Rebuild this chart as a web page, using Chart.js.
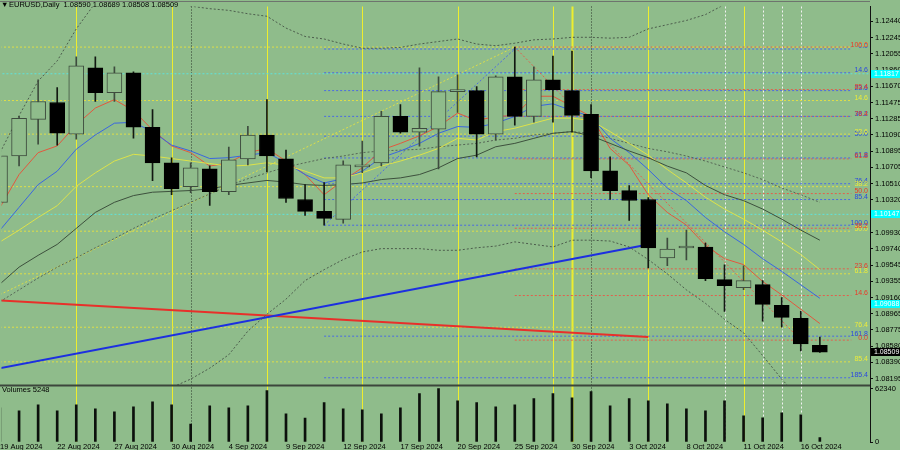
<!DOCTYPE html>
<html>
<head>
<meta charset="utf-8">
<script src="https://cdn.jsdelivr.net/npm/chart.js@4.4.1/dist/chart.umd.min.js"></script>
<style>
  html, body { margin: 0; padding: 0; background: #8fbc8b; }
  #wrap { width: 900px; height: 450px; }
</style>
</head>
<body>
<div id="wrap"><canvas id="chart" width="900" height="450"></canvas></div>
<script>
// ===================== DATA =====================
const dates = [
  "19 Aug 2024", "20 Aug 2024", "21 Aug 2024", "22 Aug 2024", "23 Aug 2024",
  "26 Aug 2024", "27 Aug 2024", "28 Aug 2024", "29 Aug 2024", "30 Aug 2024",
  "2 Sep 2024", "3 Sep 2024", "4 Sep 2024", "5 Sep 2024", "6 Sep 2024",
  "9 Sep 2024", "10 Sep 2024", "11 Sep 2024", "12 Sep 2024", "13 Sep 2024",
  "16 Sep 2024", "17 Sep 2024", "18 Sep 2024", "19 Sep 2024", "20 Sep 2024",
  "23 Sep 2024", "24 Sep 2024", "25 Sep 2024", "26 Sep 2024", "27 Sep 2024",
  "30 Sep 2024", "1 Oct 2024", "2 Oct 2024", "3 Oct 2024", "4 Oct 2024",
  "7 Oct 2024", "8 Oct 2024", "9 Oct 2024", "10 Oct 2024", "11 Oct 2024",
  "14 Oct 2024", "15 Oct 2024", "16 Oct 2024", "17 Oct 2024"
];

const opens = [1.10288, 1.10841, 1.11276, 1.11476, 1.11100, 1.11887, 1.11593, 1.11829, 1.11182, 1.10759,
  1.10476, 1.10688, 1.10417, 1.10806, 1.11088, 1.10806, 1.10323, 1.10182, 1.10088, 1.10711,
  1.10759, 1.11311, 1.11123, 1.11158, 1.11605, 1.11617, 1.11100, 1.11782, 1.11311, 1.11746,
  1.11617, 1.11335, 1.10664, 1.10429, 1.10323, 1.09630, 1.09747, 1.09759, 1.09371, 1.09277,
  1.09312, 1.09065, 1.08912, 1.08590];
const highs = [1.10900, 1.11311, 1.11746, 1.11652, 1.12017, 1.12017, 1.11899, 1.11840, 1.11393, 1.10817,
  1.10759, 1.10723, 1.10947, 1.11194, 1.11511, 1.10911, 1.10500, 1.10523, 1.10782, 1.11017,
  1.11370, 1.11452, 1.11887, 1.11782, 1.11805, 1.11664, 1.11793, 1.12134, 1.11899, 1.12028,
  1.12087, 1.11452, 1.10829, 1.10488, 1.10347, 1.09865, 1.09959, 1.09806, 1.09547, 1.09536,
  1.09359, 1.09159, 1.08995, 1.08689];
const lows = [1.10229, 1.10723, 1.10982, 1.10970, 1.11041, 1.11488, 1.11488, 1.11052, 1.10547, 1.10382,
  1.10406, 1.10253, 1.10382, 1.10735, 1.10653, 1.10288, 1.10135, 1.10018, 1.10041, 1.10641,
  1.10723, 1.11111, 1.10958, 1.10688, 1.11358, 1.10829, 1.11029, 1.11205, 1.11241, 1.11241,
  1.11123, 1.10582, 1.10323, 1.10076, 1.09512, 1.09536, 1.09606, 1.09359, 1.08995, 1.09253,
  1.08877, 1.08806, 1.08524, 1.08508];
const closes = [1.10841, 1.11288, 1.11488, 1.11111, 1.11911, 1.11593, 1.11829, 1.11182, 1.10759, 1.10453,
  1.10700, 1.10417, 1.10794, 1.11088, 1.10841, 1.10335, 1.10182, 1.10100, 1.10735, 1.10735,
  1.11311, 1.11123, 1.11170, 1.11605, 1.11629, 1.11100, 1.11782, 1.11311, 1.11746, 1.11629,
  1.11323, 1.10664, 1.10429, 1.10312, 1.09747, 1.09735, 1.09771, 1.09383, 1.09300, 1.09359,
  1.09077, 1.08924, 1.08607, 1.08509];

const volumes = [40000, 36500, 43500, 36500, 43500, 38800, 35300, 41200, 47000, 43500,
  21000, 42300, 40000, 42300, 60000, 33000, 28000, 46000, 38800, 37600,
  33000, 40000, 56400, 62340, 48200, 46000, 41200, 43500, 50600, 56400,
  51700, 58800, 42300, 50600, 48200, 44700, 38800, 36500, 48200, 30600,
  28200, 34000, 31700, 5248];

// moving averages / bands
const maRed = [1.1023, 1.1062, 1.1088, 1.1096, 1.1121, 1.1141, 1.1151, 1.1138, 1.1115, 1.1096,
  1.1088, 1.1072, 1.1076, 1.1088, 1.1093, 1.1078, 1.1062, 1.1038, 1.1055, 1.1070,
  1.1091, 1.1099, 1.1108, 1.1119, 1.1135, 1.1126, 1.1131, 1.1132, 1.1155, 1.1155,
  1.1143, 1.1131, 1.1093, 1.1073, 1.1038, 1.1017, 1.1002, 1.0978, 1.0962, 1.0955,
  1.0935, 1.0919, 1.0902, 1.0885];
const maBlue = [1.0996, 1.1023, 1.1050, 1.1066, 1.1092, 1.1109, 1.1123, 1.1124, 1.1113, 1.1097,
  1.1090, 1.1081, 1.1082, 1.1085, 1.1088, 1.1076, 1.1062, 1.1052, 1.1057, 1.1066,
  1.1082, 1.1090, 1.1099, 1.1111, 1.1119, 1.1118, 1.1123, 1.1131, 1.1143, 1.1146,
  1.1138, 1.1131, 1.1105, 1.1088, 1.1068, 1.1046, 1.1031, 1.1011, 1.0994, 1.0979,
  1.0962, 1.0947, 1.0931, 1.0915];
const maYellow = [1.0982, 1.0996, 1.1011, 1.1025, 1.1048, 1.1064, 1.1078, 1.1086, 1.1084, 1.1081,
  1.1078, 1.1075, 1.1072, 1.1073, 1.1076, 1.1073, 1.1066, 1.1058, 1.1058, 1.1064,
  1.1072, 1.1078, 1.1085, 1.1093, 1.1105, 1.1103, 1.1113, 1.1117, 1.1123, 1.1129,
  1.1129, 1.1126, 1.1113, 1.1099, 1.1085, 1.1068, 1.1052, 1.1035, 1.1021, 1.1009,
  1.0996, 1.0982, 1.0967, 1.0949];
const maDark = [1.0932, 1.0952, 1.0966, 1.0979, 1.0998, 1.1017, 1.1029, 1.1037, 1.1041, 1.1042,
  1.1043, 1.1045, 1.1049, 1.1052, 1.1055, 1.1053, 1.1050, 1.1049, 1.1050, 1.1052,
  1.1056, 1.1058, 1.1062, 1.1070, 1.1081, 1.1085, 1.1095, 1.1099, 1.1105, 1.1111,
  1.1113, 1.1108, 1.1099, 1.1090, 1.1082, 1.1072, 1.1064, 1.1049, 1.1038, 1.1031,
  1.1021, 1.1009, 1.0996, 1.0984];
const maSlow = [1.0911, 1.0925, 1.0939, 1.0952, 1.0963, 1.0975, 1.0986, 1.0998, 1.1009, 1.1019,
  1.1029, 1.1039, 1.1049, 1.1057, 1.1064, 1.1071, 1.1076, 1.1081, 1.1084, 1.1088,
  1.1090, 1.1091, 1.1092, 1.1095, 1.1097, 1.1099, 1.1103, 1.1105, 1.1109, 1.1111,
  1.1113, 1.1111, 1.1105, 1.1099, 1.1093, 1.1089, 1.1084, 1.1078, 1.1071, 1.1064,
  1.1056, 1.1046, 1.1038, 1.1029];
const bandUpper = [1.1088, 1.1132, 1.1173, 1.1197, 1.1235, 1.1266, 1.1282, 1.1288, 1.1288, 1.1278,
  1.1262, 1.1259, 1.1257, 1.1253, 1.1250, 1.1236, 1.1226, 1.1223, 1.1217, 1.1212,
  1.1212, 1.1213, 1.1217, 1.1220, 1.1223, 1.1217, 1.1215, 1.1218, 1.1222, 1.1223,
  1.1225, 1.1225, 1.1224, 1.1225, 1.1235, 1.1240, 1.1245, 1.1252, 1.1264, 1.1276,
  1.1288, 1.1299, 1.1311, 1.1323];
const bandLower = [1.0700, 1.0723, 1.0741, 1.0756, 1.0770, 1.0782, 1.0790, 1.0796, 1.0801, 1.0809,
  1.0819, 1.0832, 1.0848, 1.0876, 1.0896, 1.0914, 1.0936, 1.0949, 1.0961, 1.0970,
  1.0974, 1.0974, 1.0974, 1.0972, 1.0972, 1.0975, 1.0977, 1.0982, 1.0979, 1.0976,
  1.0984, 1.0984, 1.0983, 1.0976, 1.0961, 1.0944, 1.0925, 1.0909, 1.0890, 1.0874,
  1.0847, 1.0819, 1.0794, 1.0770];

// fibonacci levels (label, price) and the bar they start from
const redFibLevels = ["100.0", "85.4", "76.4", "61.8", "50.0", "38.2", "23.6", "14.6", "0.0"];
const redFibPrices = [1.12134, 1.11629, 1.11311, 1.10806, 1.10394, 1.09982, 1.09500, 1.09183, 1.08653];
const blueFibLevels = ["0.0", "14.6", "23.6", "38.2", "50.0", "61.8", "76.4", "85.4", "100.0", "161.8", "185.4"];
const blueFibPrices = [1.12111, 1.11829, 1.11617, 1.11311, 1.11076, 1.10817, 1.10511, 1.10323, 1.10018, 1.08700, 1.08206];
const yellowFibLevels = ["0.0", "14.6", "23.6", "38.2", "50.0", "61.8", "76.4", "85.4"];
const yellowFibPrices = [1.12134, 1.11499, 1.11100, 1.10476, 1.09947, 1.09441, 1.08806, 1.08395];
const redFibStart = "25 Sep 2024";
const blueFibStart = "11 Sep 2024";
const yellowFibStart = "19 Aug 2024";

// trend lines: [start date, start price, end date, end price]
const trendBlue = ["19 Aug 2024", 1.08320, "4 Oct 2024", 1.09790];
const trendRed = ["19 Aug 2024", 1.09124, "4 Oct 2024", 1.08689];
const diagRed = ["25 Sep 2024", 1.12134, "16 Oct 2024", 1.08653];
const diagBlue = ["11 Sep 2024", 1.10018, "25 Sep 2024", 1.12111];
const diagYellow = ["19 Aug 2024", 1.09194, "25 Sep 2024", 1.12134];

const cyanLevels = [1.11817, 1.10147];
const cyanMarks = [1.11817, 1.10147, 1.09088];

const yellowLineDates = ["23 Aug 2024", "30 Aug 2024", "6 Sep 2024", "13 Sep 2024", "20 Sep 2024",
  "27 Sep 2024", "30 Sep 2024", "4 Oct 2024", "11 Oct 2024"];
const whiteLineDates = ["10 Oct 2024", "14 Oct 2024", "15 Oct 2024", "16 Oct 2024"];
const separatorDates = ["2 Sep 2024", "1 Oct 2024"];

const priceTicks = [1.12440, 1.12245, 1.12055, 1.11860, 1.11670, 1.11475, 1.11285, 1.11090,
  1.10895, 1.10705, 1.10510, 1.10320, 1.10125, 1.09930, 1.09740, 1.09545, 1.09355, 1.09160,
  1.08965, 1.08775, 1.08580, 1.08390, 1.08195];
const volumeTicks = [0, 62340];
const axisDates = ["19 Aug 2024", "22 Aug 2024", "27 Aug 2024", "30 Aug 2024", "4 Sep 2024",
  "9 Sep 2024", "12 Sep 2024", "17 Sep 2024", "20 Sep 2024", "25 Sep 2024", "30 Sep 2024",
  "3 Oct 2024", "8 Oct 2024", "11 Oct 2024", "16 Oct 2024"];

// ===================== STYLE =====================
const BG = "#8fbc8b";
const BULL_EDGE = "#3e4c3e";
const FONT = '"Liberation Sans", Arial, sans-serif';
const xMin = 0.0785, xMax = 45.63, fibEnd = 44.65;

const idx = d => dates.indexOf(d);
const isBull = i => closes[i] >= opens[i];

function seg(points, color, width, dash, order) {
  return {
    type: "line", data: points, borderColor: color, borderWidth: width, borderDash: dash,
    pointRadius: 0, fill: false, tension: 0, order, clip: 0, yAxisID: "y"
  };
}
const series = (vals, color, dash, order) => seg(vals.map((v, i) => ({ x: i, y: v })), color, 1, dash, order);
const levels = (prices, start, color) =>
  prices.map(p => seg([{ x: idx(start), y: p }, { x: fibEnd, y: p }], color, 1, [2, 2], 10));
const twoPoint = (t, color, width, dash, order) =>
  seg([{ x: idx(t[0]), y: t[1] }, { x: idx(t[2]), y: t[3] }], color, width, dash, order);

const datasets = [
  ...cyanLevels.map(p => seg([{ x: xMin - 1, y: p }, { x: xMax, y: p }], "#5fe3dc", 1, [2, 2], 11)),
  ...levels(yellowFibPrices, yellowFibStart, "#dede48"),
  ...levels(blueFibPrices, blueFibStart, "#4a6ae4"),
  ...levels(redFibPrices, redFibStart, "#e2604c"),
  twoPoint(diagYellow, "#dede48", 1, [2, 2], 9),
  twoPoint(diagBlue, "#4a6ae4", 1, [2, 2], 9),
  twoPoint(diagRed, "#e2604c", 1, [2, 2], 9),
  twoPoint(trendBlue, "#1c2fe0", 2, [], 8),
  twoPoint(trendRed, "#e8302a", 2, [], 8),
  series(bandUpper, "#4d5d4d", [2, 2], 7),
  series(bandLower, "#4d5d4d", [2, 2], 7),
  series(maSlow, "#566656", [2, 2], 7),
  series(maDark, "#3d503d", [], 6),
  series(maYellow, "#dde24a", [], 6),
  series(maBlue, "#3a66e0", [], 6),
  series(maRed, "#e2583e", [], 6),
  {
    type: "bar", data: dates.map((d, i) => ({ x: i, y: [lows[i], highs[i]] })),
    backgroundColor: dates.map((d, i) => isBull(i) ? BULL_EDGE : "#121812"),
    barThickness: 1, grouped: false, order: 3, clip: 0, yAxisID: "y"
  },
  {
    type: "bar", data: dates.map((d, i) => ({ x: i, y: [opens[i], closes[i]] })),
    backgroundColor: dates.map((d, i) => isBull(i) ? BG : "#000"),
    borderColor: dates.map((d, i) => isBull(i) ? BULL_EDGE : "#000"),
    borderWidth: 1, borderSkipped: false, minBarLength: 2,
    barThickness: 15, grouped: false, order: 2, clip: 0, yAxisID: "y"
  },
  {
    type: "bar", data: volumes.map((v, i) => ({ x: i, y: v })),
    backgroundColor: "#0c100c", barThickness: 2, grouped: false, order: 1, yAxisID: "yVol"
  }
];

// ===================== DECORATIONS =====================
const mtDecor = {
  id: "mtDecor",
  beforeDraw(chart) {
    const { ctx, width, height } = chart;
    ctx.save();
    ctx.fillStyle = BG;
    ctx.fillRect(0, 0, width, height);
    ctx.restore();
  },
  beforeDatasetsDraw(chart) {
    const { ctx, chartArea: a, scales: { x, y, yVol } } = chart;
    const top = Math.min(a.top, y.top), bottom = Math.max(a.bottom, yVol.bottom);
    ctx.save();
    const vline = (d, color, w, dash) => {
      const px = Math.round(x.getPixelForValue(idx(d))) + 0.5;
      ctx.strokeStyle = color;
      ctx.lineWidth = w;
      ctx.setLineDash(dash);
      ctx.beginPath();
      ctx.moveTo(px, top);
      ctx.lineTo(px, bottom);
      ctx.stroke();
    };
    separatorDates.forEach(d => vline(d, "#2b382b", 1, [1, 2]));
    whiteLineDates.forEach(d => vline(d, "#f2f2f2", 1, [2, 2]));
    yellowLineDates.forEach(d => vline(d, "#eeee2e", d === "30 Sep 2024" ? 2 : 1, []));
    ctx.restore();
  },
  afterDatasetsDraw(chart) {
    const { ctx, chartArea: a, scales: { y, yVol } } = chart;
    ctx.save();
    ctx.setLineDash([]);

    // pane separator and top frame
    ctx.strokeStyle = "#3c463c";
    ctx.lineWidth = 2;
    ctx.beginPath();
    ctx.moveTo(0, yVol.top);
    ctx.lineTo(a.right, yVol.top);
    ctx.stroke();
    ctx.strokeStyle = "#6e746e";
    ctx.lineWidth = 1;
    ctx.beginPath();
    ctx.moveTo(0, 1.5);
    ctx.lineTo(a.right, 1.5);
    ctx.stroke();

    // fib level labels
    ctx.font = "7px " + FONT;
    ctx.textAlign = "right";
    ctx.textBaseline = "bottom";
    const lbl = (names, prices, color) => names.forEach((n, k) => {
      ctx.fillStyle = color;
      ctx.fillText(n, 868, y.getPixelForValue(prices[k]) + 1);
    });
    lbl(blueFibLevels, blueFibPrices, "#2a48e0");
    lbl(yellowFibLevels, yellowFibPrices, "#ecec3a");
    lbl(redFibLevels, redFibPrices, "#ea3a28");

    // price marks on the axis
    ctx.textAlign = "left";
    ctx.textBaseline = "middle";
    const mark = (p, fill, txt) => {
      const py = Math.round(y.getPixelForValue(p));
      ctx.fillStyle = fill;
      ctx.fillRect(a.right + 1, py - 4, 29, 8);
      ctx.fillStyle = txt;
      ctx.fillText(p.toFixed(5), a.right + 4, py);
    };
    cyanMarks.forEach(p => mark(p, "#00ffff", "#ffffff"));
    mark(closes[closes.length - 1], "#000000", "#ffffff");

    // header texts
    const n = dates.length - 1;
    ctx.fillStyle = "#000";
    ctx.font = "7.5px " + FONT;
    ctx.fillText("\u25BC", 1, 5);
    ctx.fillText("EURUSD,Daily  " + [opens[n], highs[n], lows[n], closes[n]].map(v => v.toFixed(5)).join(" "), 9, 5);
    ctx.fillText("Volumes " + volumes[n], 2, yVol.top + 4);
    ctx.restore();
  }
};

// ===================== CHART =====================
const tickFont = { family: FONT, size: 7.5 };

new Chart(document.getElementById("chart"), {
  type: "line",
  data: { datasets },
  options: {
    responsive: false,
    animation: false,
    devicePixelRatio: 1,
    events: [],
    layout: { padding: { top: 2, left: 0, right: 0, bottom: 0 }, autoPadding: false },
    plugins: { legend: { display: false }, tooltip: { enabled: false } },
    scales: {
      x: {
        type: "linear", min: xMin, max: xMax, offset: false,
        afterBuildTicks: s => { s.ticks = axisDates.map(d => ({ value: idx(d) })); },
        afterFit: s => { s.height = 8; },
        ticks: {
          autoSkip: false, maxRotation: 0, align: "start", padding: 0,
          font: tickFont, color: "#000", callback: v => dates[v]
        },
        grid: { display: false, drawTicks: false, offset: false },
        border: { display: false }
      },
      y: {
        type: "linear", position: "right", stack: "pane", stackWeight: 383,
        min: 1.08113, max: 1.12616,
        afterBuildTicks: s => { s.ticks = priceTicks.map(v => ({ value: v })); },
        afterFit: s => { s.width = 30; },
        ticks: { autoSkip: false, padding: 2, font: tickFont, color: "#000", callback: v => v.toFixed(5) },
        grid: { drawOnChartArea: false, drawTicks: true, tickLength: 3, color: "#111" },
        border: { display: true, color: "#111" }
      },
      yVol: {
        type: "linear", position: "right", stack: "pane", stackWeight: 57,
        min: 0, max: 65870,
        afterBuildTicks: s => { s.ticks = volumeTicks.map(v => ({ value: v })); },
        afterFit: s => { s.width = 30; },
        ticks: { autoSkip: false, padding: 2, font: tickFont, color: "#000", callback: v => String(v) },
        grid: { drawOnChartArea: false, drawTicks: true, tickLength: 3, color: "#111" },
        border: { display: true, color: "#111" }
      }
    }
  },
  plugins: [mtDecor]
});
</script>
</body>
</html>
